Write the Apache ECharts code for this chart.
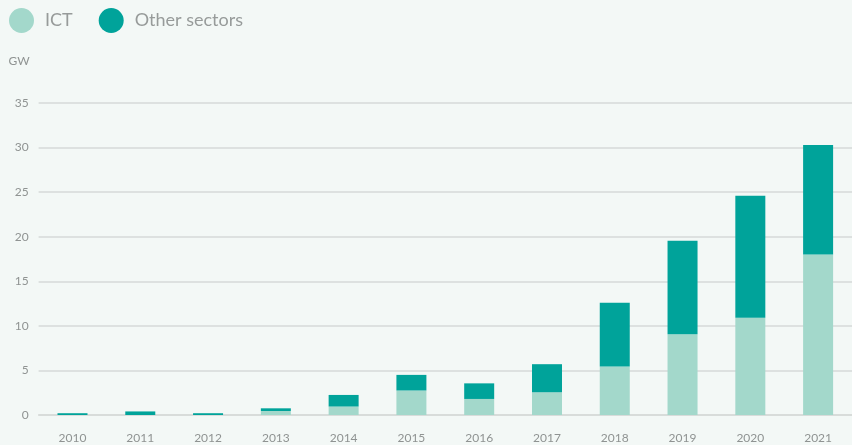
<!DOCTYPE html>
<html>
<head>
<meta charset="utf-8">
<script src="https://cdn.jsdelivr.net/npm/echarts@6/dist/echarts.min.js"></script>
<style>
html,body{margin:0;padding:0;background:#f3f8f6;}
#chart{width:852px;height:445px;}
</style>
</head>
<body>
<div id="chart"></div>
<script>
// 年份
const years = ['2010','2011','2012','2013','2014','2015','2016','2017','2018','2019','2020','2021'];
// ICT 容量 (GW)
const ict = [0, 0, 0, 0.45, 0.95, 2.75, 1.8, 2.55, 5.45, 9.05, 10.9, 18.0];
// 其他行业 (GW)
const otherSectors = [0.2, 0.4, 0.2, 0.3, 1.3, 1.75, 1.75, 3.15, 7.15, 10.5, 13.7, 12.3];

const chart = echarts.init(document.getElementById('chart'));
const font = 'Lato, "Noto Sans", sans-serif';
const option = {
  backgroundColor: '#f3f8f6',
  animation: false,
  textStyle: {fontFamily: font},
  legend: {
    left: 4, top: 3,
    icon: 'circle',
    itemWidth: 25, itemHeight: 25,
    itemGap: 26,
    textStyle: {color: '#979b9a', fontSize: 18, fontFamily: font, padding: [0, 0, 0, 6]},
    data: ['ICT', 'Other sectors']
  },
  grid: {left: 38.6, right: -5, top: 103, bottom: 30},
  xAxis: {
    type: 'category',
    data: years,
    axisLine: {lineStyle: {color: '#d6dad8', width: 1.5}},
    axisTick: {show: false},
    axisLabel: {color: '#8f9392', fontSize: 12, margin: 17}
  },
  yAxis: {
    type: 'value',
    min: 0, max: 35, interval: 5,
    name: 'GW',
    nameGap: 36,
    nameTextStyle: {color: '#8f9392', fontSize: 12, align: 'right', padding: [0, 9, 0, 0]},
    axisLine: {show: false},
    axisTick: {show: false},
    axisLabel: {color: '#8f9392', fontSize: 12, margin: 10},
    splitLine: {lineStyle: {color: '#d6dad8', width: 1.5}}
  },
  series: [
    {name: 'ICT', type: 'bar', stack: 'total', data: ict, barWidth: 30,
     itemStyle: {color: '#a3d8cb'}},
    {name: 'Other sectors', type: 'bar', stack: 'total', data: otherSectors, barWidth: 30,
     itemStyle: {color: '#00a39a'}}
  ]
};
chart.setOption(option);
</script>
</body>
</html>
